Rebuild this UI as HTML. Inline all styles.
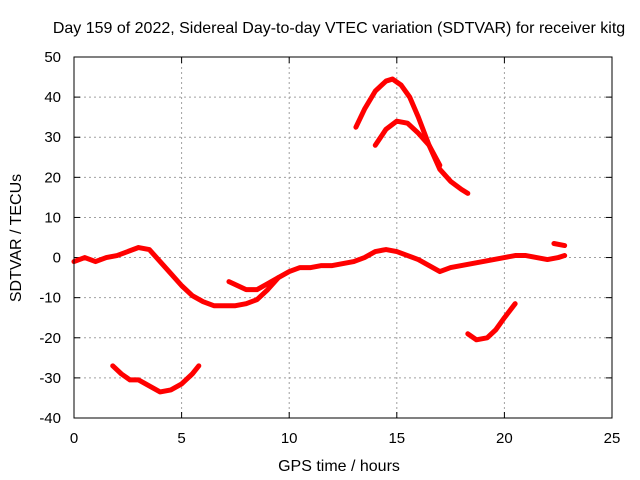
<!DOCTYPE html>
<html><head><meta charset="utf-8"><style>
body{margin:0;background:#fff}
svg{display:block;font-family:"Liberation Sans",sans-serif}
</style></head><body>
<svg id="chart" width="640" height="480">
<text x="339" y="33" font-size="16" text-anchor="middle">Day 159 of 2022, Sidereal Day-to-day VTEC variation (SDTVAR) for receiver kitg</text>
<text x="339" y="471" font-size="16" text-anchor="middle">GPS time / hours</text>
<text transform="translate(21,238) rotate(-90)" font-size="16" text-anchor="middle">SDTVAR / TECUs</text>
<g id="grid"></g><g id="ticks"></g><g id="series"></g>
<rect x="74" y="57" width="538" height="361" fill="none" stroke="#000"/>
</svg>
<script>
const xTicks=[0,5,10,15,20,25];
const yTicks=[-40,-30,-20,-10,0,10,20,30,40,50];
const s1x=[0,0.5,1,1.5,2,2.5,3,3.5,4,4.5,5,5.5,6,6.5,7,7.5,8,8.5,9,9.5,10,10.5,11,11.5,12,12.5,13,13.5,14,14.5,15,15.5,16,16.5,17,17.5,18,18.5,19,19.5,20,20.5,21,21.5,22,22.5,22.8];
const s1y=[-1,0,-1,0,0.5,1.5,2.5,2,-1,-4,-7,-9.5,-11,-12,-12,-12,-11.5,-10.5,-8,-5,-3.5,-2.5,-2.5,-2,-2,-1.5,-1,0,1.5,2,1.5,0.5,-0.5,-2,-3.5,-2.5,-2,-1.5,-1,-0.5,0,0.5,0.5,0,-0.5,0,0.5];
const s2x=[7.2,7.6,8,8.5,9,9.5];
const s2y=[-6,-7,-8,-8,-6.5,-5];
const s3x=[1.8,2.2,2.6,3,3.5,4,4.5,5,5.5,5.8];
const s3y=[-27,-29,-30.5,-30.5,-32,-33.5,-33,-31.5,-29,-27];
const s4x=[13.1,13.5,14,14.5,14.8,15.2,15.6,16,16.5,17,17.5,18,18.3];
const s4y=[32.5,37,41.5,44,44.5,43,40,35,28,22,19,17,16];
const s5x=[14,14.5,15,15.5,16,16.5,17];
const s5y=[28,32,34,33.5,31,28,23];
const s6x=[18.3,18.7,19.2,19.6,20,20.5];
const s6y=[-19,-20.5,-20,-18,-15,-11.5];
const s7x=[22.3,22.8];
const s7y=[3.5,3];
const NS="http://www.w3.org/2000/svg";
const X=v=>74+v*(538/25);
const Y=v=>418-(v+40)*(361/90);
const grid=document.getElementById('grid'),ticks=document.getElementById('ticks'),ser=document.getElementById('series');
function mk(t,a,p){const e=document.createElementNS(NS,t);for(const k in a)e.setAttribute(k,a[k]);p.appendChild(e);return e;}
xTicks.forEach(v=>{
 if(v>0&&v<25){const g=mk('line',{x1:X(v),x2:X(v),y1:57,y2:418,stroke:'#a0a0a0','stroke-dasharray':'2,3'},grid);
 
 }
 const t=mk('text',{x:X(v),y:443,'font-size':15,'text-anchor':'middle'},ticks);t.textContent=v;
 
 
 mk('line',{x1:X(v),x2:X(v),y1:418,y2:412,stroke:'#000'},ticks);
 mk('line',{x1:X(v),x2:X(v),y1:57,y2:63,stroke:'#000'},ticks);
});
yTicks.forEach(v=>{
 if(v>-40&&v<50){const g=mk('line',{x1:74,x2:612,y1:Y(v),y2:Y(v),stroke:'#a0a0a0','stroke-dasharray':'2,3'},grid);
 
 }
 const t=mk('text',{x:61,y:Y(v)+5,'font-size':15,'text-anchor':'end'},ticks);t.textContent=v;
 
 
 mk('line',{x1:74,x2:80,y1:Y(v),y2:Y(v),stroke:'#000'},ticks);
 mk('line',{x1:612,x2:606,y1:Y(v),y2:Y(v),stroke:'#000'},ticks);
});
[[s1x,s1y],[s2x,s2y],[s3x,s3y],[s4x,s4y],[s5x,s5y],[s6x,s6y],[s7x,s7y]].forEach((s,i)=>{
 const pts=s[0].map((x,j)=>X(x)+','+Y(s[1][j])).join(' ');
 const p=mk('polyline',{points:pts,fill:'none',stroke:'#ff0000','stroke-width':5,'stroke-linejoin':'round','stroke-linecap':'round'},ser);
 
 
});
</script>
</body></html>
